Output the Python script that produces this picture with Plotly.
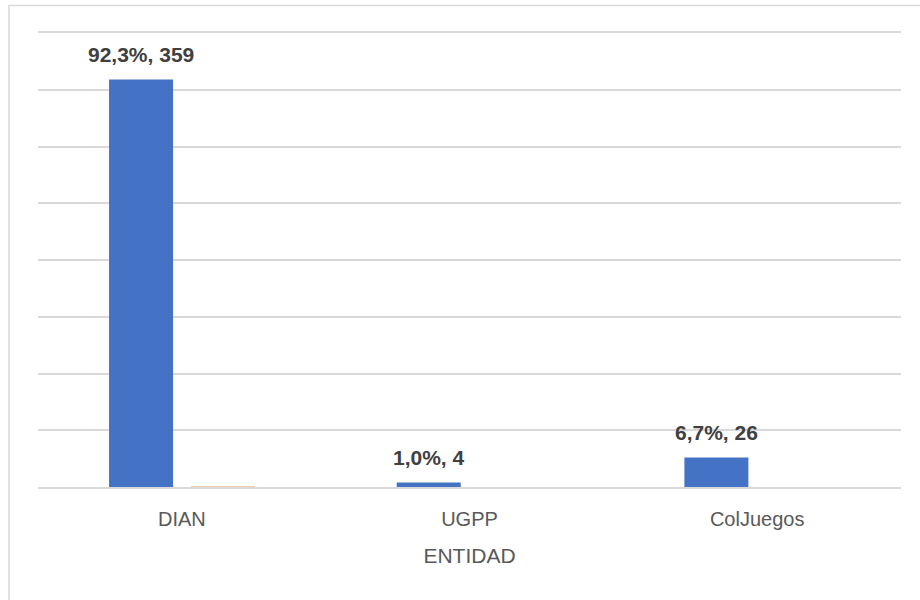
import plotly.graph_objects as go

categories = ["DIAN", "UGPP", "ColJuegos"]
counts = [359, 4, 26]
percent_labels = ["92,3%", "1,0%", "6,7%"]
series2 = [0.8, 0, 0]

BAR_W = 0.2225
OFF1 = -0.253
OFF2 = 0.032

# plot area geometry (px) used to place the outer chart frame
L, R, T, B = 38, 19, 33, 113
W, H = 920, 600
pw, ph = W - L - R, H - T - B

def px_x(v):
    return (v - L) / pw

def px_y(v):
    return (H - B - v) / ph

fig = go.Figure()
fig.add_trace(go.Bar(
    x=categories, y=counts, width=BAR_W, offset=OFF1,
    marker=dict(color="#4472C4", line=dict(width=0)),
    name="Cantidad", hoverinfo="x+y",
))
fig.add_trace(go.Bar(
    x=categories, y=series2, width=BAR_W, offset=OFF2,
    marker=dict(color="#EFCDB7", line=dict(width=0)),
    name="Serie 2", hoverinfo="x+y",
))

for i, (c, p) in enumerate(zip(counts, percent_labels)):
    fig.add_annotation(
        x=i + OFF1 + BAR_W / 2, y=c, xref="x", yref="y",
        text=f"<b>{p}, {c}</b>", showarrow=False,
        yanchor="middle", xanchor="center", yshift=25,
        font=dict(family="Liberation Sans, Arial, sans-serif", size=21, color="#404040"),
    )

fig.add_shape(
    type="rect", xref="paper", yref="paper",
    x0=px_x(9), x1=px_x(926), y0=px_y(606), y1=px_y(5.5),
    line=dict(color="#D9D9D9", width=1.5), fillcolor="rgba(0,0,0,0)", layer="below",
)

fig.update_layout(
    width=W, height=H,
    margin=dict(l=L, r=R, t=T, b=B, pad=0),
    paper_bgcolor="white", plot_bgcolor="white",
    showlegend=False, barmode="overlay",
    font=dict(family="Liberation Sans, Arial, sans-serif", color="#595959"),
    xaxis=dict(
        type="category", range=[-0.5, 2.5],
        showgrid=False, showline=True, mirror=True, linecolor="#D9D9D9", linewidth=1.5,
        ticks="", tickfont=dict(size=20, color="#595959"),
        ticklabelstandoff=13,
        title=dict(text="ENTIDAD", font=dict(size=21, color="#595959"), standoff=20),
    ),
    yaxis=dict(
        range=[0, 400], dtick=50, showticklabels=False,
        showgrid=True, gridcolor="#D9D9D9", gridwidth=1.5,
        zeroline=False, showline=False, ticks="",
    ),
)

fig.write_html("out.html")
